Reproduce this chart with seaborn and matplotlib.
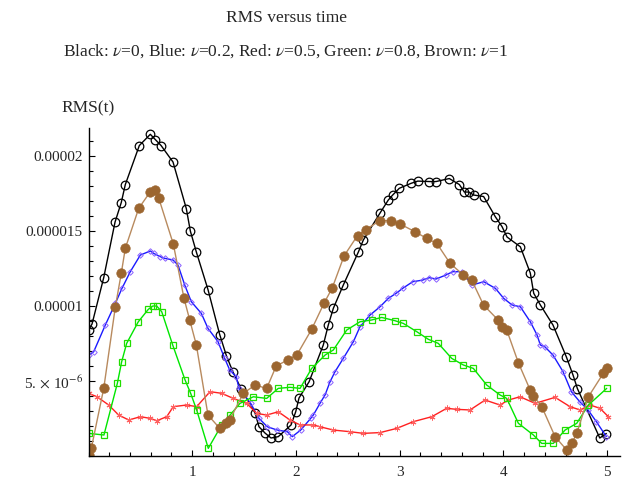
import numpy as np
import pandas as pd
import matplotlib
matplotlib.use("Agg")
import matplotlib.pyplot as plt
from matplotlib.ticker import MultipleLocator, FixedLocator, FixedFormatter
import seaborn as sns

# ---- data (time, RMS in units of 1e-6) ----
black_t = [0.0, 0.034, 0.147, 0.256, 0.316, 0.355, 0.49, 0.596, 0.644, 0.70, 0.815, 0.943, 0.982,
           1.04, 1.152, 1.265, 1.329, 1.393, 1.47, 1.606, 1.644, 1.702, 1.76, 1.83, 1.953, 1.998,
           2.03, 2.127, 2.264, 2.312, 2.361, 2.457, 2.602, 2.65, 2.811, 2.891, 2.933, 2.997, 3.11,
           3.175, 3.286, 3.351, 3.479, 3.576, 3.624, 3.666, 3.715, 3.81, 3.923, 3.987, 4.036, 4.164,
           4.26, 4.293, 4.357, 4.479, 4.607, 4.672, 4.714, 4.93, 4.993]
black_y = [8.4, 8.8, 11.9, 15.6, 16.9, 18.1, 20.7, 21.45, 21.1, 20.7, 19.6, 16.5, 15.0,
           13.6, 11.1, 8.1, 6.7, 5.6, 4.5, 2.87, 1.95, 1.53, 1.2, 1.29, 2.07, 2.95,
           3.87, 4.95, 7.4, 8.73, 9.85, 11.4, 13.6, 14.4, 16.2, 17.07, 17.4, 17.85, 18.18,
           18.33, 18.3, 18.3, 18.5, 18.1, 17.6, 17.6, 17.4, 17.3, 15.95, 15.3, 14.6, 13.95,
           12.2, 10.85, 10.07, 8.73, 6.62, 5.4, 4.5, 1.2, 1.5]

blue_t = [0.0, 0.05, 0.162, 0.259, 0.323, 0.403, 0.5, 0.596, 0.629, 0.692, 0.735, 0.815, 0.863,
          0.928, 0.991, 1.088, 1.152, 1.249, 1.313, 1.362, 1.425, 1.451, 1.564, 1.644, 1.724,
          1.82, 1.917, 1.965, 2.046, 2.143, 2.168, 2.232, 2.281, 2.329, 2.377, 2.457, 2.554,
          2.618, 2.715, 2.811, 2.891, 2.965, 3.03, 3.126, 3.223, 3.286, 3.351, 3.447, 3.512,
          3.602, 3.698, 3.811, 3.923, 4.004, 4.084, 4.164, 4.26, 4.325, 4.357, 4.399, 4.479,
          4.576, 4.656, 4.737, 4.817, 4.897, 4.993]
blue_y = [6.73, 6.95, 8.73, 10.18, 11.18, 12.29, 13.4, 13.67, 13.51, 13.29, 13.18, 13.07, 12.73,
          11.4, 10.29, 9.51, 8.51, 7.62, 6.51, 5.73, 5.29, 4.51, 3.51, 2.51, 1.95,
          1.73, 1.62, 1.29, 1.73, 2.51, 2.73, 3.51, 4.07, 4.95, 5.62, 6.51, 7.62,
          8.62, 9.4, 9.95, 10.51, 10.84, 11.18, 11.62, 11.73, 11.89, 11.8, 12.07, 12.29,
          12.29, 11.4, 11.62, 11.18, 10.51, 10.07, 9.95, 8.95, 8.07, 7.4, 7.29, 6.73,
          5.62, 4.29, 3.62, 3.07, 2.29, 1.29]

red_t = [0.0, 0.082, 0.195, 0.291, 0.388, 0.5, 0.596, 0.658, 0.754, 0.818, 0.947, 1.043, 1.172,
         1.284, 1.396, 1.525, 1.622, 1.718, 1.83, 1.943, 2.04, 2.168, 2.232, 2.361, 2.522, 2.65,
         2.811, 2.972, 3.132, 3.31, 3.454, 3.551, 3.679, 3.824, 3.968, 4.048, 4.161, 4.306,
         4.499, 4.643, 4.74, 4.836, 4.932, 5.013]
red_y = [4.18, 3.95, 3.4, 2.73, 2.4, 2.62, 2.51, 2.35, 2.62, 3.29, 3.4, 3.29, 4.29,
         4.18, 3.84, 3.51, 2.84, 2.73, 2.95, 2.4, 2.07, 2.07, 1.95, 1.73, 1.62, 1.51,
         1.56, 1.84, 2.29, 2.62, 3.18, 3.11, 3.07, 3.73, 3.4, 3.73, 3.95, 3.51,
         3.91, 3.29, 3.07, 3.4, 3.18, 2.62]

green_t = [0.0, 0.149, 0.278, 0.32, 0.368, 0.48, 0.577, 0.62, 0.658, 0.706, 0.812, 0.931, 0.985,
           1.043, 1.155, 1.284, 1.365, 1.461, 1.589, 1.718, 1.83, 1.943, 2.04, 2.152, 2.281,
           2.361, 2.49, 2.618, 2.731, 2.827, 2.956, 3.036, 3.165, 3.277, 3.373, 3.502, 3.614,
           3.711, 3.84, 3.968, 4.033, 4.145, 4.29, 4.37, 4.482, 4.595, 4.708, 4.82, 4.997]
green_y = [1.51, 1.4, 4.84, 6.29, 7.51, 8.95, 9.78, 10.0, 10.0, 9.62, 7.4, 5.07, 4.18,
           3.07, 0.51, 2.07, 2.73, 3.51, 3.95, 3.84, 4.51, 4.58, 4.51, 5.84, 6.73,
           7.07, 8.4, 8.95, 9.07, 9.24, 9.02, 8.84, 8.29, 7.78, 7.51, 6.51, 6.07,
           5.84, 4.73, 4.07, 3.84, 2.18, 1.4, 0.84, 0.84, 1.73, 2.18, 3.4, 4.51]

brown_t = [0.0, 0.027, 0.147, 0.259, 0.316, 0.355, 0.484, 0.596, 0.644, 0.677, 0.818, 0.921, 0.976,
           1.04, 1.152, 1.265, 1.329, 1.361, 1.493, 1.606, 1.718, 1.81, 1.92, 2.01, 2.152, 2.272,
           2.35, 2.465, 2.594, 2.675, 2.811, 2.915, 3.004, 3.149, 3.261, 3.358, 3.486, 3.614,
           3.695, 3.809, 3.945, 3.99, 4.033, 4.146, 4.259, 4.29, 4.37, 4.499, 4.611, 4.66, 4.708,
           4.82, 4.964, 4.997]
brown_y = [0.1, 0.51, 4.51, 9.95, 12.18, 13.85, 16.51, 17.62, 17.73, 17.2, 14.13, 10.51, 9.07,
           7.4, 2.73, 1.85, 2.18, 2.4, 4.18, 4.73, 4.51, 6.0, 6.4, 6.75, 8.45, 10.2,
           11.2, 13.35, 14.7, 15.1, 15.7, 15.7, 15.47, 14.95, 14.51, 14.18, 12.85, 12.07,
           11.73, 10.07, 9.1, 8.6, 8.4, 6.2, 4.4, 4.0, 3.3, 1.29, 0.4, 0.84, 1.51,
           3.95, 5.51, 5.84]

x_ticks = [1, 2, 3, 4, 5]
y_ticks = [5e-6, 1e-5, 1.5e-5, 2e-5]
y_tick_labels = [r"5.$\,\times\,$10$^{-6}$", "0.00001", "0.000015", "0.00002"]

sns.set_theme(style="white")
plt.rcParams["font.family"] = ["Liberation Serif", "DejaVu Serif"]
plt.rcParams["mathtext.fontset"] = "stix"

fig = plt.figure(figsize=(6.31, 4.78), dpi=100)
ax = fig.add_axes([88.5 / 631, 22 / 478, (620 - 88.5) / 631, (456 - 128) / 478])

series = [
    (black_t, black_y, dict(color="#000000", marker="o", markersize=6.2, markerfacecolor="none",
                            markeredgecolor="#000000", markeredgewidth=0.9, linewidth=1.0)),
    (blue_t, blue_y, dict(color="#1a1aff", marker="D", markersize=2.8, markerfacecolor="none",
                          markeredgecolor="#8a60ff", markeredgewidth=0.7, linewidth=1.0)),
    (red_t, red_y, dict(color="#ff2020", marker=(6, 2, 0), markersize=4.2,
                        markeredgecolor="#ff6060", markeredgewidth=0.7, linewidth=1.0)),
    (green_t, green_y, dict(color="#00e600", marker="s", markersize=4.3, markerfacecolor="none",
                            markeredgecolor="#22dd00", markeredgewidth=0.9, linewidth=1.0)),
    (brown_t, brown_y, dict(color="#b88a5e", marker="o", markersize=6.8, markerfacecolor="#9c6630",
                            markeredgecolor="#9c6630", markeredgewidth=0.5, linewidth=1.0)),
]
for t, y, kw in series:
    df = pd.DataFrame({"t": t, "rms": np.array(y) * 1e-6})
    sns.lineplot(data=df, x="t", y="rms", estimator=None, sort=False, ax=ax, **kw)

ax.set_xlim(0, 5.125)
ax.set_ylim(0, 2.187e-5)
ax.set_xlabel("")
ax.set_ylabel("")
for s in ["top", "right"]:
    ax.spines[s].set_visible(False)
for s in ["left", "bottom"]:
    ax.spines[s].set_color("black")
    ax.spines[s].set_linewidth(1.0)

ax.xaxis.set_major_locator(FixedLocator(x_ticks))
ax.xaxis.set_major_formatter(FixedFormatter([str(v) for v in x_ticks]))
ax.xaxis.set_minor_locator(MultipleLocator(0.2))
ax.yaxis.set_major_locator(FixedLocator(y_ticks))
ax.yaxis.set_major_formatter(FixedFormatter(y_tick_labels))
ax.yaxis.set_minor_locator(MultipleLocator(1e-6))
ax.tick_params(which="both", direction="in", color="black", width=0.8)
ax.tick_params(which="major", length=4.5, labelsize=11)
ax.tick_params(axis="y", which="major", pad=4)
ax.tick_params(axis="x", which="major", pad=7)
ax.tick_params(which="minor", length=2.8)
ax.tick_params(axis="both", which="both", bottom=True, left=True)

fig.text(88 / 631, 1 - 108 / 478, "RMS(t)", ha="center", va="center", fontsize=12.5)
fig.text(287 / 631, 1 - 18 / 478, "RMS versus time", ha="center", va="center", fontsize=12.5)
fig.text(286 / 631, 1 - 51 / 478,
         r"Black: $\nu$=0, Blue: $\nu$=0.2, Red: $\nu$=0.5, Green: $\nu$=0.8, Brown: $\nu$=1",
         ha="center", va="center", fontsize=12.5)

fig.savefig("out.png", dpi=100)
